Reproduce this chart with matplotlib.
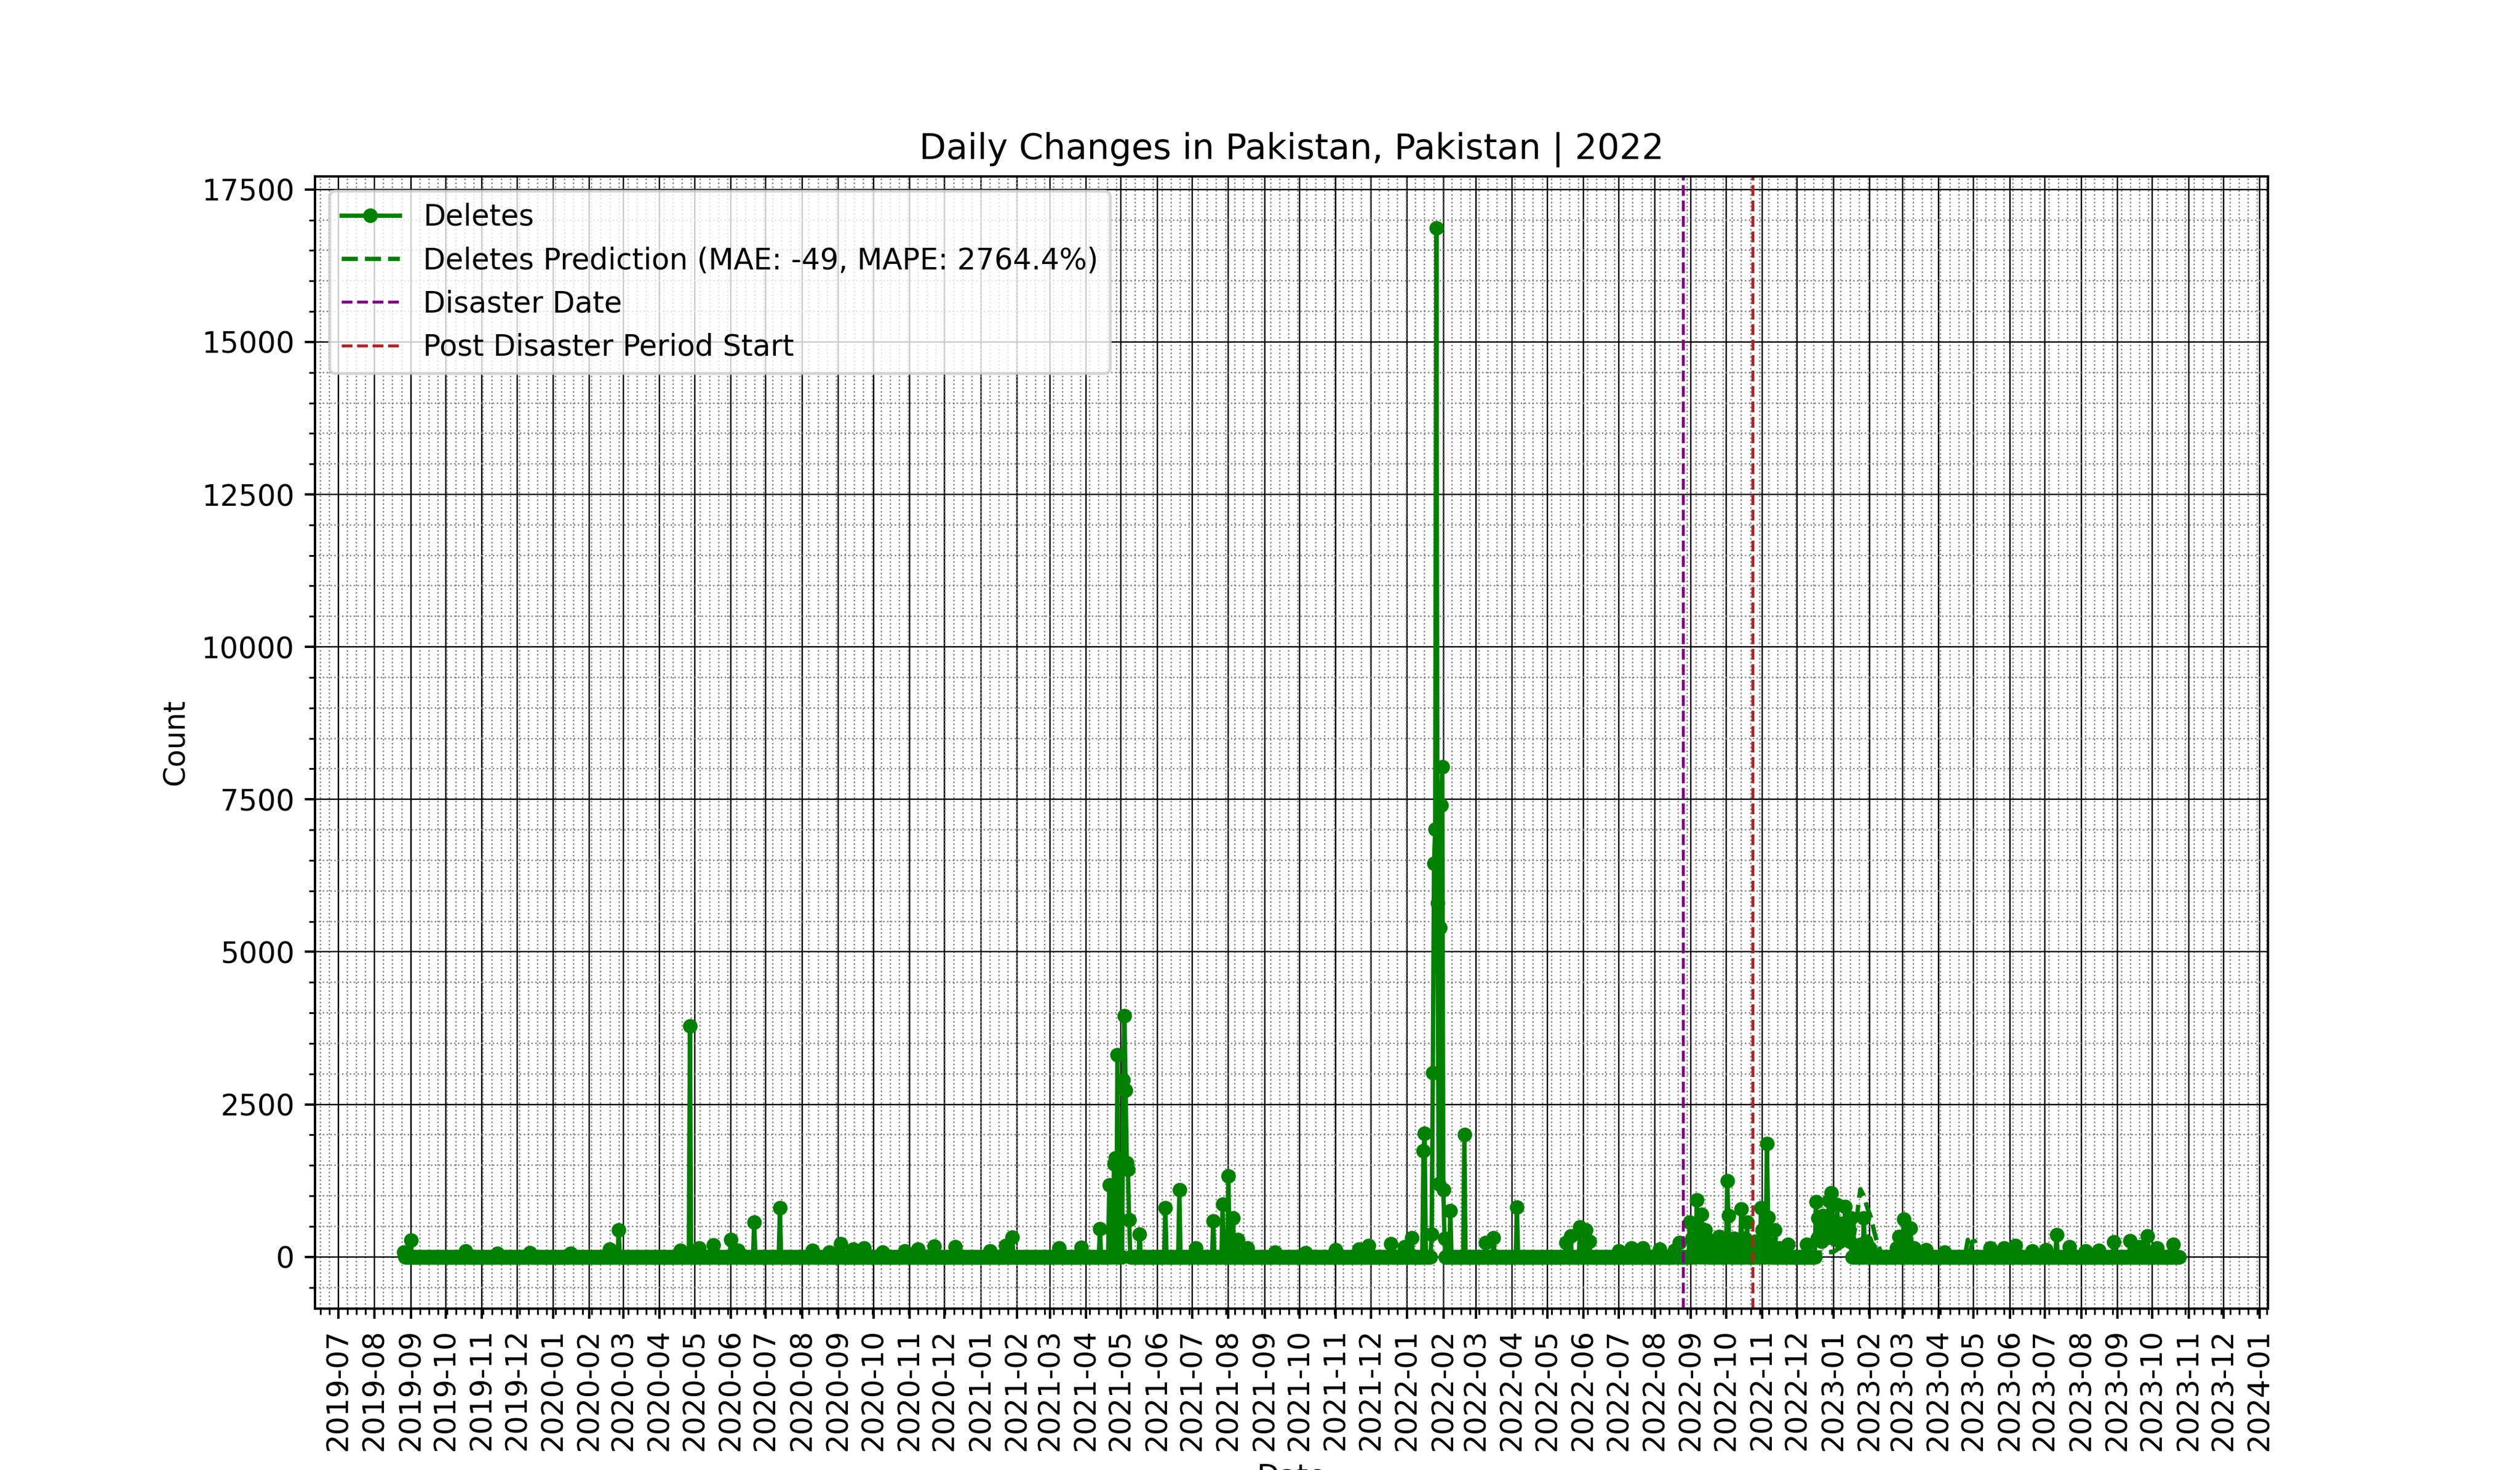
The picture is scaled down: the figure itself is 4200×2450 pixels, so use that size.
import matplotlib
matplotlib.use("Agg")
import matplotlib.dates as mdates
import matplotlib.pyplot as plt
import pandas as pd

first_day = "2019-08-26"
last_day = "2023-10-24"
disaster_date = "2022-08-25"
post_disaster_start = "2022-10-24"

# days that stand out from the ~0 baseline
spike_dates = [
    "2019-08-26", "2019-09-01", "2019-10-18", "2019-11-14", "2019-12-12",
    "2020-01-16", "2020-02-18", "2020-02-26", "2020-04-19", "2020-04-27",
    "2020-05-05", "2020-05-17", "2020-06-01", "2020-06-07", "2020-06-21",
    "2020-07-13", "2020-08-10", "2020-08-24",
    "2020-09-03", "2020-09-14", "2020-09-23", "2020-10-09", "2020-10-28",
    "2020-11-08", "2020-11-22", "2020-12-10",
    "2021-01-09", "2021-01-22", "2021-01-28", "2021-03-09", "2021-03-28",
    "2021-04-13", "2021-04-21", "2021-04-23", "2021-04-25", "2021-04-26",
    "2021-04-28", "2021-05-01", "2021-05-03", "2021-05-04", "2021-05-05",
    "2021-05-06", "2021-05-07", "2021-05-08", "2021-05-17", "2021-06-08",
    "2021-06-20", "2021-07-04", "2021-07-19", "2021-07-27", "2021-08-01",
    "2021-08-05", "2021-08-09", "2021-08-17", "2021-09-10", "2021-10-06",
    "2021-11-01", "2021-11-21", "2021-11-29", "2021-12-18", "2021-12-30",
    "2022-01-05", "2022-01-15", "2022-01-16", "2022-01-22", "2022-01-23",
    "2022-01-24", "2022-01-25", "2022-01-26", "2022-01-27", "2022-01-28",
    "2022-01-29", "2022-01-30", "2022-01-31", "2022-02-01", "2022-02-02",
    "2022-02-07", "2022-02-19", "2022-03-09",
    "2022-03-16", "2022-04-05", "2022-05-17", "2022-05-21", "2022-05-29",
    "2022-06-03", "2022-06-06", "2022-07-01", "2022-07-12", "2022-07-22",
    "2022-08-05", "2022-08-18",
    "2022-08-22", "2022-08-31", "2022-09-02", "2022-09-04", "2022-09-06",
    "2022-09-07", "2022-09-08", "2022-09-10", "2022-09-11", "2022-09-13",
    "2022-09-14", "2022-09-16", "2022-09-19", "2022-09-22", "2022-09-25",
    "2022-09-28", "2022-10-02", "2022-10-03", "2022-10-05", "2022-10-08",
    "2022-10-11", "2022-10-14", "2022-10-17", "2022-10-19", "2022-10-22",
    "2022-10-26", "2022-10-28", "2022-10-31", "2022-11-01", "2022-11-03",
    "2022-11-05", "2022-11-06", "2022-11-08", "2022-11-12", "2022-11-16",
    "2022-11-23", "2022-12-09",
    "2022-12-17", "2022-12-18", "2022-12-19", "2022-12-20", "2022-12-21",
    "2022-12-22", "2022-12-23", "2022-12-24", "2022-12-25", "2022-12-26",
    "2022-12-27", "2022-12-28", "2022-12-29", "2022-12-30", "2022-12-31",
    "2023-01-01", "2023-01-02", "2023-01-03", "2023-01-04", "2023-01-05",
    "2023-01-06", "2023-01-07", "2023-01-08", "2023-01-09", "2023-01-10",
    "2023-01-11", "2023-01-12", "2023-01-13", "2023-01-14", "2023-01-15",
    "2023-01-16", "2023-01-20", "2023-01-24", "2023-01-27", "2023-01-29",
    "2023-02-01", "2023-02-24", "2023-02-26", "2023-03-02", "2023-03-04",
    "2023-03-08", "2023-03-11", "2023-03-21", "2023-04-06", "2023-05-15",
    "2023-05-27", "2023-06-06", "2023-06-20", "2023-07-02", "2023-07-11",
    "2023-07-22", "2023-08-05", "2023-08-16", "2023-08-29", "2023-09-12",
    "2023-09-20", "2023-09-27", "2023-10-05", "2023-10-19",
]
spike_values = [
    80, 275, 100, 60, 70,
    60, 130, 443, 110, 3787,
    145, 197, 285, 110, 571,
    807, 110, 80,
    210, 130, 145, 80, 100,
    130, 175, 165,
    100, 180, 318, 145, 155,
    459, 1180, 445, 1525, 1625,
    3315, 1560, 2900, 3954, 2734,
    1545, 1430, 610, 374, 805,
    1100, 145, 590, 866, 1327,
    640, 280, 145, 80, 70,
    115, 130, 180, 210, 165,
    313, 1740, 2025, 370, 3020,
    6450, 7010, 16870, 5800, 1200,
    5400, 7400, 8030, 1100, 300,
    757, 2007, 230,
    310, 816, 230, 340, 490,
    440, 250, 100, 145, 145,
    130, 110,
    230, 570, 300, 250, 934,
    500, 350, 700, 300, 440,
    200, 280, 150, 200, 330,
    150, 1250, 680, 200, 300,
    250, 787, 300, 570, 200,
    250, 150, 800, 440, 300,
    1860, 650, 200, 440, 150,
    200, 200,
    905, 300, 640, 350, 450,
    250, 680, 400, 300, 500,
    350, 920, 600, 1050, 450,
    300, 500, 350, 855, 400,
    250, 550, 300, 450, 350,
    820, 400, 300, 500, 250,
    640, 150, 200, 640, 250,
    150, 150, 330, 620, 250,
    472, 150, 120, 80, 150,
    150, 180, 100, 120, 365,
    165, 100, 110, 245, 265,
    165, 345, 150, 200,
]

pred_dates = [
    "2022-10-24", "2022-10-28", "2022-11-02", "2022-11-06", "2022-12-01",
    "2023-01-01", "2023-01-18", "2023-01-21", "2023-01-24", "2023-01-27",
    "2023-01-30", "2023-02-02", "2023-02-05", "2023-02-08", "2023-02-11",
    "2023-03-15", "2023-04-24", "2023-04-26", "2023-04-28", "2023-04-30",
    "2023-05-02", "2023-05-04", "2023-06-15", "2023-08-01", "2023-10-24",
]
pred_values = [
    100, 150, 320, 100, 60,
    80, 300, 650, 1110, 1000,
    800, 650, 400, 200, 60,
    50, 60, 280, 80, 250,
    260, 60, 40, 40, 40,
]


def build_series():
    days = pd.date_range(first_day, last_day, freq="D")
    deletes = pd.Series(0.0, index=days)
    deletes.loc[pd.to_datetime(spike_dates)] = spike_values
    return deletes


def plot_daily_changes():
    deletes = build_series()
    prediction = pd.Series(pred_values, index=pd.to_datetime(pred_dates))

    fig, ax = plt.subplots(figsize=(12, 7))

    ax.plot(deletes.index, deletes.values, marker="o", markersize=4,
            linewidth=1.5, color="green", label="Deletes")
    ax.plot(prediction.index, prediction.values, linestyle="--", linewidth=1.5,
            color="green", label="Deletes Prediction (MAE: -49, MAPE: 2764.4%)")
    ax.axvline(pd.to_datetime(disaster_date), color="purple", linestyle="--",
               linewidth=1, label="Disaster Date")
    ax.axvline(pd.to_datetime(post_disaster_start), color="firebrick",
               linestyle="--", linewidth=1, label="Post Disaster Period Start")

    ax.set_title("Daily Changes in Pakistan, Pakistan | 2022")
    ax.set_xlabel("Date")
    ax.set_ylabel("Count")
    ax.xaxis.set_major_locator(mdates.MonthLocator())
    ax.xaxis.set_major_formatter(mdates.DateFormatter("%Y-%m"))
    plt.xticks(rotation=90)

    ax.minorticks_on()
    ax.grid(which="major", linestyle="-", linewidth=0.5, color="black")
    ax.grid(which="minor", linestyle=":", linewidth=0.5, color="gray")
    ax.legend(loc="upper left")

    fig.savefig("out.png", dpi=350)


if __name__ == "__main__":
    plot_daily_changes()
